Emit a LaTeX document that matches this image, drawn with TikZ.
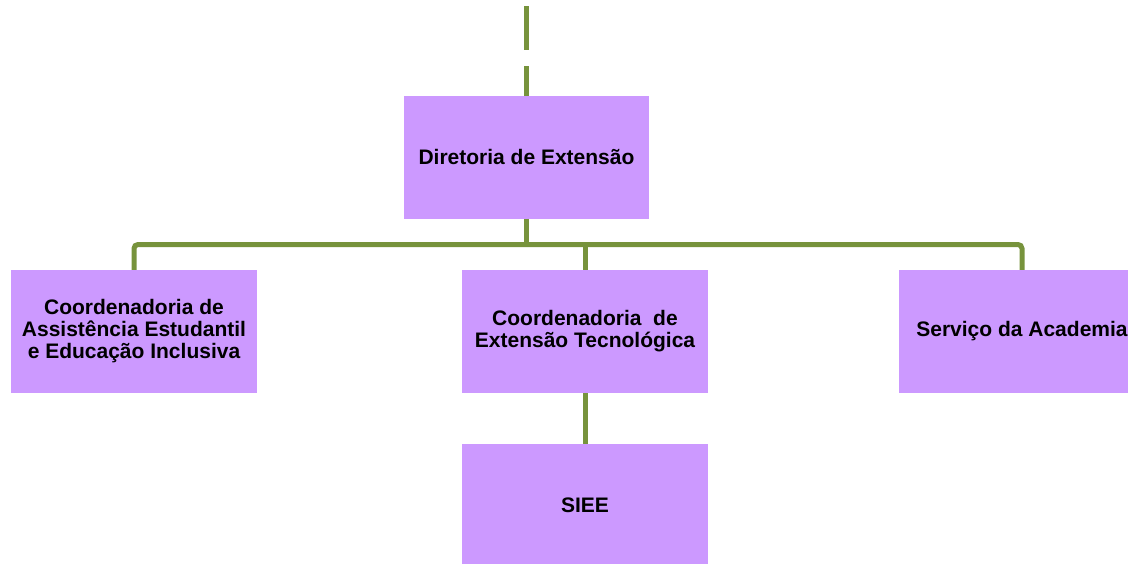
\documentclass[tikz,border=0pt]{standalone}
\usepackage{fontspec}
\setmainfont{Liberation Sans}
\definecolor{boxfill}{HTML}{CC99FF}
\definecolor{linegreen}{HTML}{77933C}
\begin{document}
\begin{tikzpicture}[x=1pt,y=-1pt,
  orgbox/.style={rectangle, fill=boxfill, draw=none, inner sep=0pt,
    minimum width=245.5pt, minimum height=122.8pt, align=center,
    font=\fontsize{21}{22}\selectfont\bfseries},
  conn/.style={draw=linegreen, line width=5pt}]
\useasboundingbox (0,0) rectangle (1128,563);
\clip (0,0) rectangle (1128,563);
\node[orgbox] (dir) at (526.5,157.3) {Diretoria de Extensão};
\node[orgbox] (cae) at (134,331.5) {Coordenadoria de\\Assistência Estudantil\\e Educação Inclusiva};
\node[orgbox] (cet) at (585,331.5) {Coordenadoria~~de\\Extensão Tecnológica};
\node[orgbox] (sa) at (1022,331.5) {Serviço da Academia};
\node[orgbox] (siee) at (585,505.4) {SIEE};
\coordinate (top) at (526.5,6);
\coordinate (bus) at (0,244.5);
\draw[conn, dash pattern=on 44pt off 16pt] (top) -- (dir.north);
\draw[conn, rounded corners=4pt] (cae.north) -- (cae.north |- bus) -- (sa.north |- bus) -- (sa.north);
\draw[conn] (dir.south) -- (dir.south |- bus);
\draw[conn] (cet.north) -- (cet.north |- bus);
\draw[conn] (cet.south) -- (siee.north);
\end{tikzpicture}
\end{document}
